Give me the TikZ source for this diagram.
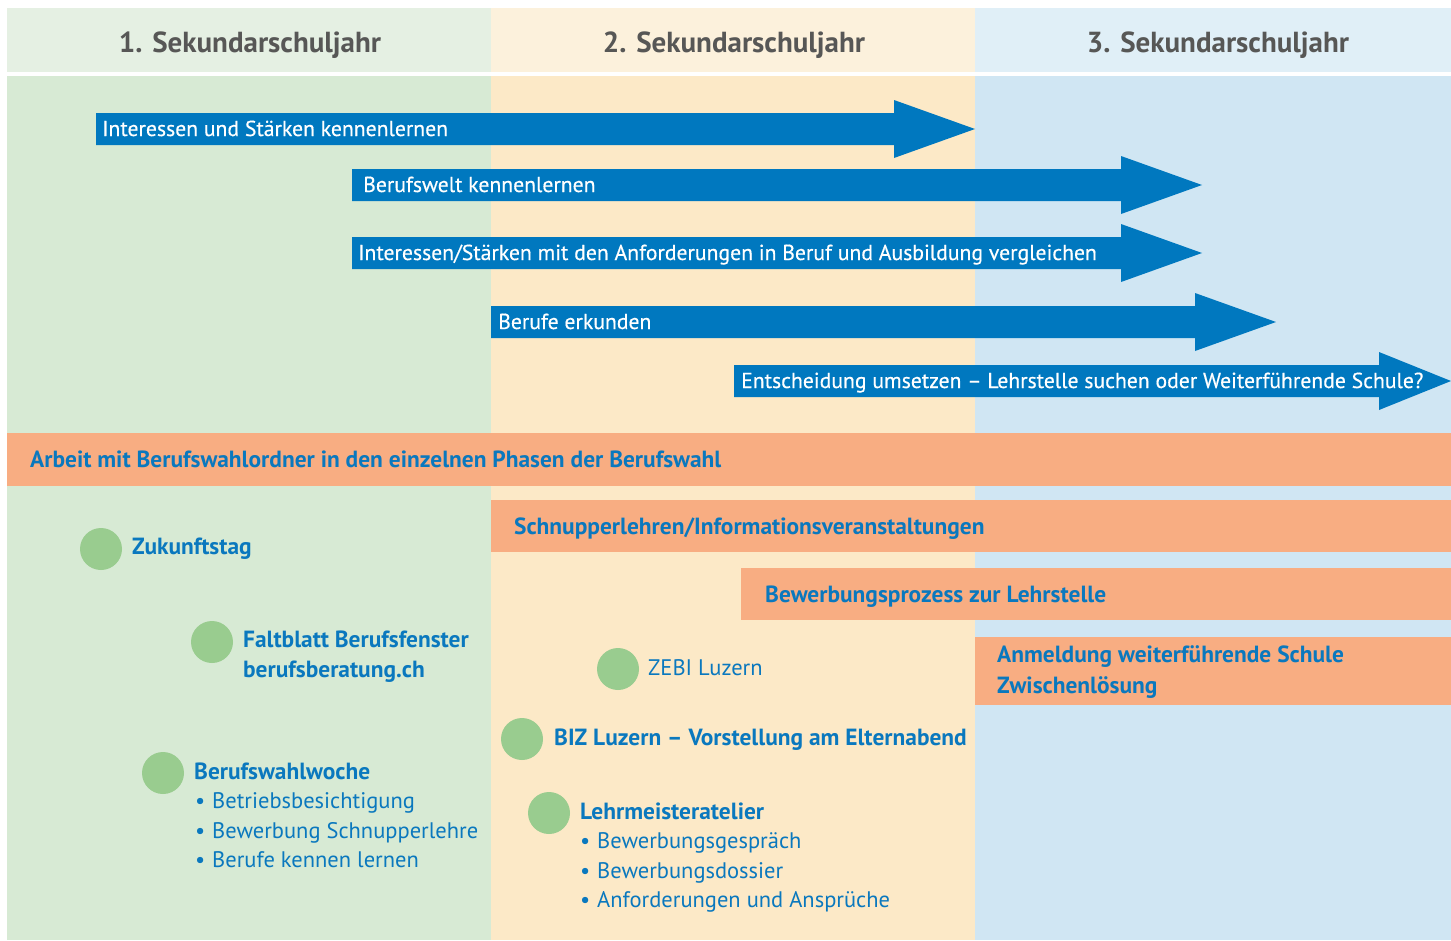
\documentclass[tikz,border=0pt]{standalone}
\usepackage{fontspec}
\setmainfont{PT Sans}
\newfontfamily\medfont{PT Sans}[FakeBold=0.4]
\definecolor{hA}{HTML}{E5F0E3}
\definecolor{hB}{HTML}{FCF1DC}
\definecolor{hC}{HTML}{E0EFF7}
\definecolor{bA}{HTML}{D7EAD4}
\definecolor{bB}{HTML}{FCE9C7}
\definecolor{bC}{HTML}{D0E6F3}
\definecolor{arrblue}{HTML}{0078BF}
\definecolor{orangebox}{HTML}{F8AD82}
\definecolor{dotgreen}{HTML}{99CC8F}
\definecolor{tblue}{HTML}{0A78BE}
\definecolor{hgray}{HTML}{575756}
\tikzset{
  hdr/.style={font=\fontsize{29}{32}\selectfont\bfseries, text=hgray, inner sep=0, anchor=base},
  arrtxt/.style={font=\medfont\fontsize{21.7}{24}\selectfont, text=white, inner sep=0, anchor=base west},
  lbl/.style={font=\fontsize{23.4}{26}\selectfont\bfseries, text=tblue, inner sep=0, anchor=base west},
  reg/.style={font=\fontsize{22.5}{26}\selectfont, text=tblue, inner sep=0, anchor=base west},
  dot/.style={circle, fill=dotgreen, minimum size=42pt, inner sep=0, draw=none},
  bigarrow/.style={fill=arrblue},
  obox/.style={fill=orangebox}
}
\begin{document}
\begin{tikzpicture}[x=1pt,y=-1pt]
\useasboundingbox (0,0) rectangle (1451,940);
\fill[white] (0,0) rectangle (1451,940);
% headers
\fill[hA] (7,8) rectangle (491,72);
\fill[hB] (491,8) rectangle (975,72);
\fill[hC] (975,8) rectangle (1451,72);
% bodies
\fill[bA] (7,76) rectangle (491,940);
\fill[bB] (491,76) rectangle (975,940);
\fill[bC] (975,76) rectangle (1451,940);
\node[hdr] (head1) at (250,52) {1. Sekundarschuljahr};
\node[hdr] (head2) at (734,52) {2. Sekundarschuljahr};
\node[hdr] (head3) at (1218,52) {3. Sekundarschuljahr};
% arrows
\fill[bigarrow] (96,113) -- (894,113) -- (894,100) -- (975,129) -- (894,158) -- (894,145) -- (96,145) -- cycle;
\node[arrtxt] (a1) at (102,136) {Interessen und Stärken kennenlernen};
\fill[bigarrow] (352,169) -- (1121,169) -- (1121,156) -- (1202,185) -- (1121,214) -- (1121,201) -- (352,201) -- cycle;
\node[arrtxt] (a2) at (363,192) {Berufswelt kennenlernen};
\fill[bigarrow] (352,237) -- (1121,237) -- (1121,224) -- (1202,253) -- (1121,282) -- (1121,269) -- (352,269) -- cycle;
\node[arrtxt] (a3) at (358,260) {Interessen/Stärken mit den Anforderungen in Beruf und Ausbildung vergleichen};
\fill[bigarrow] (491,306) -- (1195,306) -- (1195,293) -- (1276,322) -- (1195,351) -- (1195,338) -- (491,338) -- cycle;
\node[arrtxt] (a4) at (498,329) {Berufe erkunden};
\fill[bigarrow] (734,365) -- (1379,365) -- (1379,352) -- (1451,381) -- (1379,410) -- (1379,397) -- (734,397) -- cycle;
\node[arrtxt] (a5) at (741,388) {Entscheidung umsetzen – Lehrstelle suchen oder Weiterführende Schule?};
% orange band and boxes
\fill[obox] (7,433) rectangle (1451,486);
\node[lbl] (o1) at (30,467) {Arbeit mit Berufswahlordner in den einzelnen Phasen der Berufswahl};
\fill[obox] (491,500) rectangle (1451,552);
\node[lbl] (o2) at (514,534) {Schnupperlehren/Informationsveranstaltungen};
\fill[obox] (741,568) rectangle (1451,620);
\node[lbl] (o3) at (765,602) {Bewerbungsprozess zur Lehrstelle};
\fill[obox] (975,637) rectangle (1451,705);
\node[lbl] (o4a) at (997,662) {Anmeldung weiterführende Schule};
\node[lbl] (o4b) at (997,693) {Zwischenlösung};
% dots and labels
\node[dot] (d1) at (101,549) {};
\node[lbl] (t1) at (132,554) {Zukunftstag};
\node[dot] (d2) at (212,642) {};
\node[lbl] (t2a) at (243,647) {Faltblatt Berufsfenster};
\node[lbl] (t2b) at (243,677) {berufsberatung.ch};
\node[dot] (d3) at (163,773) {};
\node[lbl] (t3) at (194,779) {Berufswahlwoche};
\node[reg] (t3b1) at (195,808) {•};
\node[reg] (t3i1) at (212,808) {Betriebsbesichtigung};
\node[reg] (t3b2) at (195,838) {•};
\node[reg] (t3i2) at (212,838) {Bewerbung Schnupperlehre};
\node[reg] (t3b3) at (195,867) {•};
\node[reg] (t3i3) at (212,867) {Berufe kennen lernen};
\node[dot] (d4) at (618,669) {};
\node[reg] (t4) at (648,675) {ZEBI Luzern};
\node[dot] (d5) at (522,739) {};
\node[lbl] (t5) at (554,745) {BIZ Luzern – Vorstellung am Elternabend};
\node[dot] (d6) at (549,813) {};
\node[lbl] (t6) at (580,819) {Lehrmeisteratelier};
\node[reg] (t6b1) at (580,848) {•};
\node[reg] (t6i1) at (597,848) {Bewerbungsgespräch};
\node[reg] (t6b2) at (580,878) {•};
\node[reg] (t6i2) at (597,878) {Bewerbungsdossier};
\node[reg] (t6b3) at (580,907) {•};
\node[reg] (t6i3) at (597,907) {Anforderungen und Ansprüche};
\end{tikzpicture}
\end{document}
